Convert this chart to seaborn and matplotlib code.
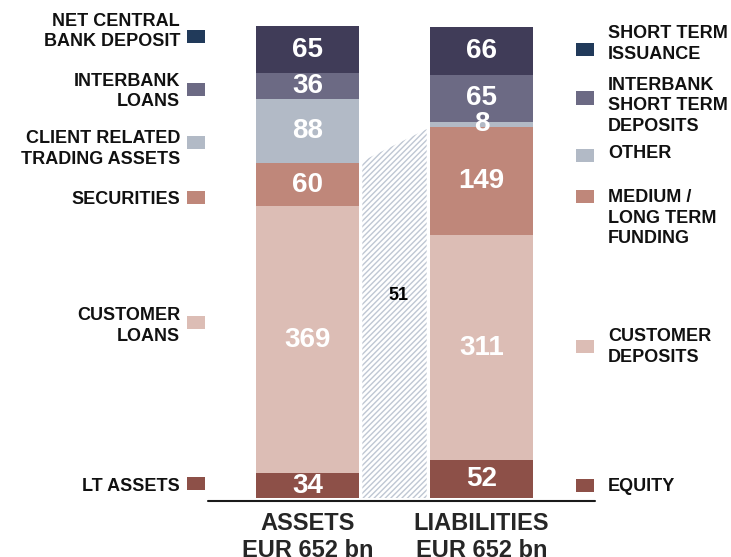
import numpy as np
import pandas as pd
import matplotlib
matplotlib.use("Agg")
import matplotlib.pyplot as plt
from matplotlib.patches import Rectangle
from matplotlib.lines import Line2D
import seaborn as sns

# ---- data (EUR bn) -------------------------------------------------------
sides = ["ASSETS", "LIABILITIES"]
side_labels = ["ASSETS\nEUR 652 bn", "LIABILITIES\nEUR 652 bn"]

# stacked bottom -> top
assets = [34, 369, 60, 88, 36, 65]
liabilities = [52, 311, 149, 8, 65, 66]

asset_names = ["LT ASSETS", "CUSTOMER\nLOANS", "SECURITIES",
               "CLIENT RELATED\nTRADING ASSETS", "INTERBANK\nLOANS",
               "NET CENTRAL\nBANK DEPOSIT"]
liability_names = ["EQUITY", "CUSTOMER\nDEPOSITS", "MEDIUM /\nLONG TERM\nFUNDING",
                   "OTHER", "INTERBANK\nSHORT TERM\nDEPOSITS", "SHORT TERM\nISSUANCE"]

gap_value = 51

# ---- style ---------------------------------------------------------------
sns.set_style("white")
plt.rcParams["font.family"] = ["Liberation Sans", "DejaVu Sans"]
plt.rcParams["hatch.linewidth"] = 1.0
plt.rcParams["hatch.color"] = "#bfc7d3"

seg_colors = ["#8d5048", "#dcbdb5", "#bf877a", "#b2bac6", "#6c6a84", "#403c58"]
swatch_colors = ["#8d5048", "#dcbdb5", "#bf877a", "#b2bac6", "#6c6a84", "#213a5a"]

W, H, DPI = 731, 557, 100
fig = plt.figure(figsize=(W / DPI, H / DPI), dpi=DPI)

# axes geometry (pixels): bar centres at 307.5 / 481.5, baseline at 498
px_unit = 174.0
y_scale = 472.0 / 652.0
ax_left = 307.5 - 0.5 * px_unit
ax_w = 2 * px_unit
y_max = 680
ax_bottom_px = 498
ax_h = y_max * y_scale
ax = fig.add_axes([ax_left / W, (H - ax_bottom_px) / H, ax_w / W, ax_h / H])

bar_w = 0.59

# ---- stacked bars --------------------------------------------------------
bottoms = np.zeros(2)
for i in range(len(assets)):
    vals = np.array([assets[i], liabilities[i]], dtype=float)
    df = pd.DataFrame({"side": sides, "value": vals})
    sns.barplot(data=df, x="side", y="value", color=seg_colors[i],
                bottom=bottoms, width=bar_w, errorbar=None,
                saturation=1, linewidth=0, ax=ax)
    for j in range(2):
        ax.text(j, bottoms[j] + vals[j] / 2, f"{int(vals[j])}",
                ha="center", va="center", color="white",
                fontsize=20, fontweight="bold")
    bottoms = bottoms + vals

# ---- hatched bridge between the bars -------------------------------------
left_top = sum(assets[:3])
right_top = sum(liabilities[:3])
x0, x1 = bar_w / 2, 1 - bar_w / 2
gap = 0.02
hx = np.array([x0 + gap, x1 - gap])
htop = left_top + (right_top - left_top) * (hx - x0) / (x1 - x0)
ax.fill_between(hx, 0, htop, facecolor="white", edgecolor="#bfc7d3",
                hatch="//////", linewidth=0, zorder=0.5)
ax.text(0.52, 280, f"{gap_value}", ha="center", va="center",
        color="black", fontsize=13, fontweight="bold")

# ---- axes cosmetics ------------------------------------------------------
ax.set_xlim(-0.5, 1.5)
ax.set_ylim(0, y_max)
ax.set_xlabel("")
ax.set_ylabel("")
ax.set_yticks([])
ax.set_xticks([0, 1])
ax.set_xticklabels(side_labels, fontsize=17, fontweight="bold",
                   linespacing=1.22)
ax.tick_params(axis="x", length=0, pad=10)
sns.despine(ax=ax, left=True, bottom=True)
ax.patch.set_alpha(0)

# baseline
fig.add_artist(Line2D([208 / W, 595 / W], [(H - 501) / H] * 2,
                      color="#1a1a1a", linewidth=1.5))

# ---- side legends --------------------------------------------------------
def fy(p):
    return (H - p) / H

left_text_y = [486.5, 326, 200, 149, 91.5, 31.5]
left_sw_y = [483.5, 322.5, 197.5, 142.5, 89.5, 36.5]
right_text_y = [486.5, 347, 218, 153, 106, 44]
right_sw_y = [485.5, 346.5, 196, 155, 98, 49.5]

sw_w, sw_h = 18, 13
for k in range(6):
    fig.text(180 / W, fy(left_text_y[k]), asset_names[k], ha="right",
             va="center", fontsize=13, fontweight="bold", color="#111111",
             linespacing=1.28)
    fig.add_artist(Rectangle((187 / W, fy(left_sw_y[k] + sw_h / 2)),
                             sw_w / W, sw_h / H, facecolor=swatch_colors[k],
                             edgecolor="none", transform=fig.transFigure))
    fig.text(608 / W, fy(right_text_y[k]), liability_names[k], ha="left",
             va="center", fontsize=13, fontweight="bold", color="#111111",
             linespacing=1.28)
    fig.add_artist(Rectangle((576 / W, fy(right_sw_y[k] + sw_h / 2)),
                             sw_w / W, sw_h / H, facecolor=swatch_colors[k],
                             edgecolor="none", transform=fig.transFigure))

fig.savefig("out.png", dpi=DPI)
